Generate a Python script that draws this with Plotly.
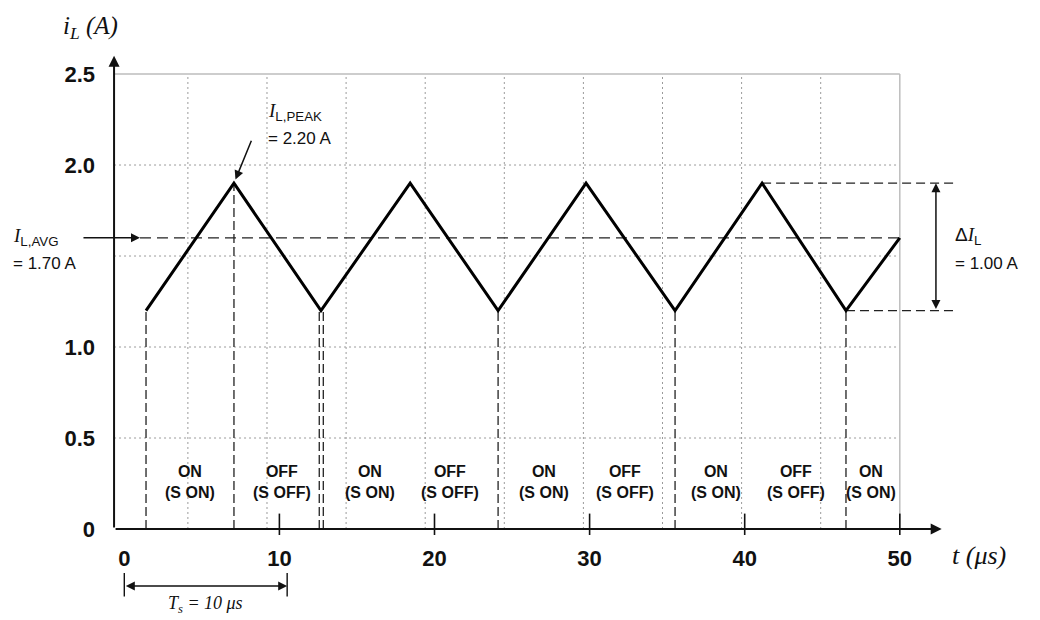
import numpy as np
import plotly.graph_objects as go

# ---------------- data ----------------
t_us = [1.4, 7.07, 12.68, 18.43, 24.1, 29.77, 35.51, 41.12, 46.53, 50.0]
i_L = [1.2, 1.9, 1.2, 1.9, 1.2, 1.9, 1.2, 1.9, 1.2, 1.6]

drop_t = [1.4, 7.07, 12.57, 12.83, 24.1, 35.51, 46.53]
i_avg = 1.6
i_peak = 1.9
i_valley = 1.2

phase_t = [4.24, 10.17, 15.85, 21.0, 27.06, 32.28, 38.15, 43.3, 48.14]
phase_labels = ["ON<br>(S ON)", "OFF<br>(S OFF)", "ON<br>(S ON)", "OFF<br>(S OFF)",
                "ON<br>(S ON)", "OFF<br>(S OFF)", "ON<br>(S ON)", "OFF<br>(S OFF)",
                "ON<br>(S ON)"]

x_ticks = [0, 10, 20, 30, 40, 50]
x_ticktext = ["0", "10", "20", "30", "40", "50"]
y_ticks = [0, 0.5, 1.0, 2.0, 2.5]
y_ticktext = ["0", "0.5", "1.0", "2.0", "2.5"]
grid_x = [4.1, 9.2, 14.3, 19.4, 24.5, 29.6, 34.7, 39.8, 44.9]
grid_y = [0.5, 1.0, 1.5, 2.0]
grid_right = 50.0
grid_top = 2.5

ts_start, ts_end = 0.0, 10.5

# ---------------- layout geometry ----------------
W, H = 1040, 620
ML, MR, MT, MB = 108, 40, 40, 85
X_RANGE = [-1.051, 56.46]
Y_RANGE = [-0.033, 2.687]
X_AXIS0 = -0.66          # where the vertical axis sits
X_ARROW_END = 52.7
Y_ARROW_END = 2.6
PW, PH = W - ML - MR, H - MT - MB


def px_x(p):  # pixel -> paper x
    return (p - ML) / PW


def px_y(p):  # pixel -> paper y
    return (H - MB - p) / PH


SANS = "Liberation Sans"
SERIF = "Liberation Serif"
BLACK = "#111111"

fig = go.Figure()

# grid (shapes below)
shapes = []
for gx in grid_x:
    shapes.append(dict(type="line", xref="x", yref="y", x0=gx, x1=gx, y0=0, y1=grid_top,
                       line=dict(color="#9a9a9a", width=1, dash="2px,3px"), layer="below"))
for gy in grid_y:
    shapes.append(dict(type="line", xref="x", yref="y", x0=X_AXIS0, x1=grid_right, y0=gy, y1=gy,
                       line=dict(color="#9a9a9a", width=1, dash="2px,3px"), layer="below"))
shapes.append(dict(type="line", xref="x", yref="y", x0=X_AXIS0, x1=grid_right, y0=grid_top, y1=grid_top,
                   line=dict(color="#bdbdbd", width=1.5), layer="below"))
shapes.append(dict(type="line", xref="x", yref="y", x0=grid_right, x1=grid_right, y0=0, y1=grid_top,
                   line=dict(color="#bdbdbd", width=1.5), layer="below"))

# dashed drop lines from the waveform to the axis
drop_top = np.interp(drop_t, t_us, i_L)
dx, dy = [], []
for t, v in zip(drop_t, drop_top):
    dx += [t, t, None]
    dy += [0, v, None]
fig.add_trace(go.Scatter(x=dx, y=dy, mode="lines", hoverinfo="skip",
                         line=dict(color="#222222", width=1.3, dash="9px,4px")))

# average line
fig.add_trace(go.Scatter(x=[1.01, t_us[-1]], y=[i_avg, i_avg], mode="lines", hoverinfo="skip",
                         line=dict(color="#222222", width=1.3, dash="11px,6px")))
# peak / valley extension lines
fig.add_trace(go.Scatter(x=[t_us[7], 53.75, None, t_us[8], 53.75], y=[i_peak, i_peak, None, i_valley, i_valley],
                         mode="lines", hoverinfo="skip",
                         line=dict(color="#222222", width=1.3, dash="9px,5px")))

# waveform
fig.add_trace(go.Scatter(x=t_us, y=i_L, mode="lines", hoverinfo="skip",
                         line=dict(color="#000000", width=3)))

# x tick marks crossing the axis
fig.add_trace(go.Scatter(x=x_ticks[1:], y=[0] * (len(x_ticks) - 1), mode="markers", hoverinfo="skip",
                         marker=dict(symbol="line-ns", size=22, line=dict(color=BLACK, width=1.6))))

ann = []
# axes arrows
ann.append(dict(x=X_AXIS0, y=Y_ARROW_END, ax=X_AXIS0, ay=0, xref="x", yref="y", axref="x", ayref="y",
                text="", showarrow=True, arrowhead=2, arrowsize=1.1, arrowwidth=2, arrowcolor=BLACK))
ann.append(dict(x=X_ARROW_END, y=0, ax=X_AXIS0, ay=0, xref="x", yref="y", axref="x", ayref="y",
                text="", showarrow=True, arrowhead=2, arrowsize=1.1, arrowwidth=2, arrowcolor=BLACK))
# peak arrow
ann.append(dict(x=t_us[1], y=i_peak, ax=18, ay=-44, xref="x", yref="y", text="", showarrow=True,
                arrowhead=2, arrowsize=1.2, arrowwidth=1.5, arrowcolor=BLACK, standoff=4))
# avg arrow
ann.append(dict(x=1.01, y=i_avg, ax=-58, ay=0, xref="x", yref="y", text="", showarrow=True,
                arrowhead=2, arrowsize=1.2, arrowwidth=1.5, arrowcolor=BLACK))
# delta I arrow
ann.append(dict(x=52.33, y=i_peak, ax=52.33, ay=i_valley, xref="x", yref="y", axref="x", ayref="y",
                text="", showarrow=True, arrowhead=2, startarrowhead=2, arrowside="end+start",
                arrowsize=1.2, startarrowsize=1.2, arrowwidth=1.5, arrowcolor=BLACK))
# Ts arrow and bars
ann.append(dict(x=ts_end, y=px_y(586), ax=ts_start, ay=0, xref="x", yref="paper",
                axref="x", ayref="pixel", text="", showarrow=True, arrowhead=2, startarrowhead=2,
                arrowside="end+start", arrowsize=1.2, startarrowsize=1.2, arrowwidth=1.5, arrowcolor=BLACK))
for tb in (ts_start, ts_end):
    ann.append(dict(x=tb, y=px_y(573), ax=0, ay=25, xref="x", yref="paper", text="", showarrow=True,
                    arrowhead=0, arrowwidth=1.4, arrowcolor=BLACK))


def text_ann(x, y, text, font, xref="paper", yref="paper", xanchor="left"):
    return dict(x=x, y=y, xref=xref, yref=yref, xanchor=xanchor, yanchor="middle",
                showarrow=False, text=text, font=font)


ann.append(text_ann((ts_start + ts_end) / 2, px_y(604), "<i>T<sub>s</sub> = 10 μs</i>",
                    dict(family=SERIF, size=18, color=BLACK), xref="x", xanchor="center"))

# axis titles
ann.append(text_ann(px_x(61), px_y(27), "<i>i<sub>L</sub> (A)</i>", dict(family=SERIF, size=25, color=BLACK)))
ann.append(text_ann(px_x(950), px_y(555), "<i>t (μs)</i>", dict(family=SERIF, size=26, color=BLACK)))


# value annotations
def ilab(sub):
    return f"<span style='font-family:{SERIF}'><i>I</i></span><sub>{sub}</sub>"


lab_font = dict(family=SANS, size=17, color=BLACK)
big_font = dict(family=SANS, size=19, color=BLACK)
ann.append(text_ann(px_x(266), px_y(112), ilab("L,PEAK"), big_font))
ann.append(text_ann(px_x(266), px_y(139), "= 2.20 A", lab_font))
ann.append(text_ann(px_x(11), px_y(237), ilab("L,AVG"), big_font))
ann.append(text_ann(px_x(11), px_y(263), "= 1.70 A", lab_font))
ann.append(text_ann(px_x(953), px_y(236), "Δ" + ilab("L"), big_font))
ann.append(text_ann(px_x(953), px_y(263), "= 1.00 A", lab_font))

# phase labels
for t, lab in zip(phase_t, phase_labels):
    ann.append(text_ann(t, px_y(482), lab, dict(family=SANS, size=16, color=BLACK, weight="bold"),
                        xref="x", xanchor="center"))

fig.update_layout(
    width=W, height=H, margin=dict(l=ML, r=MR, t=MT, b=MB, autoexpand=False),
    paper_bgcolor="white", plot_bgcolor="white", showlegend=False,
    shapes=shapes, annotations=ann,
    xaxis=dict(range=X_RANGE, showgrid=False, zeroline=False, showline=False,
               tickmode="array", tickvals=x_ticks, ticktext=x_ticktext, ticks="",
               ticklabelstandoff=8,
               tickfont=dict(family=SANS, size=22, color=BLACK, weight="bold")),
    yaxis=dict(range=Y_RANGE, showgrid=False, zeroline=False, showline=False,
               tickmode="array", tickvals=y_ticks, ticktext=y_ticktext, ticks="",
               ticklabelstandoff=12,
               tickfont=dict(family=SANS, size=22, color=BLACK, weight="bold")),
)

fig.write_html("out.html")
